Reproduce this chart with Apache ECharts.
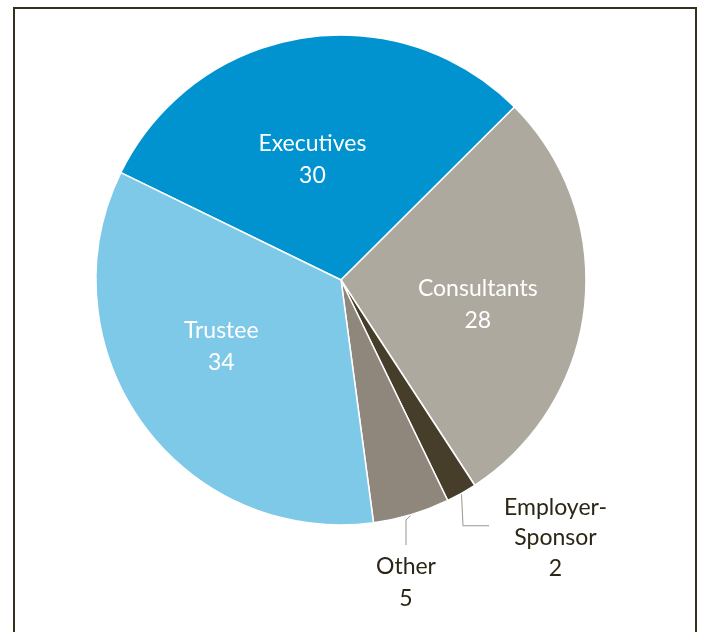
<!DOCTYPE html>
<html>
<head>
<meta charset="utf-8">
<script src="https://cdn.jsdelivr.net/npm/echarts@6/dist/echarts.min.js"></script>
<style>
  html, body { margin: 0; padding: 0; background: #ffffff; }
  #chart { width: 701px; height: 632px; }
</style>
</head>
<body>
<div id="chart"></div>
<script>
// Who makes the decision: count of responses by group
const categories = ['Executives', 'Consultants', 'Employer-\nSponsor', 'Other', 'Trustee'];
const values = [30, 28, 2, 5, 34];
const sliceColors = ['#0093d0', '#aea99e', '#463e2a', '#8f877c', '#7ec8e8'];

// which slices carry their label inside the wedge
const insideLabel = [true, true, false, false, true];

const chart = echarts.init(document.getElementById('chart'));

const data = categories.map((name, i) => ({
  name: name,
  value: values[i],
  itemStyle: { color: sliceColors[i] },
  label: insideLabel[i]
    ? { position: 'inside', color: '#ffffff' }
    : { position: 'outside', color: '#2b2616' },
  labelLine: { show: !insideLabel[i] }
}));

// outside labels: padding leaves room for the leader line
data[2].label.lineHeight = 30.5;
data[2].label.padding = [24, 0, 0, 15];
data[2].labelLine.length2 = 26;
data[3].label.padding = [6, 0, 0, 0];

// fine placement of each inside label, by slice
const labelNudge = [
  { dx: -8, dy: 3 },
  { dx: 12, dy: 11 },
  null,
  null,
  { dx: -18, dy: -7 }
];

chart.setOption({
  animation: false,
  graphic: [{
    type: 'rect',
    shape: { x: 14, y: 8, width: 682, height: 700 },
    style: { fill: 'none', stroke: '#35301f', lineWidth: 2 },
    silent: true,
    z: -1
  }],
  series: [{
    type: 'pie',
    center: [341, 280],
    radius: [0, 245],
    startAngle: 154,
    clockwise: true,
    avoidLabelOverlap: false,
    itemStyle: { borderColor: '#ffffff', borderWidth: 1.5 },
    label: {
      show: true,
      formatter: '{b}\n{c}',
      fontFamily: 'Lato',
      fontWeight: 400,
      fontSize: 23,
      lineHeight: 32,
      align: 'center'
    },
    labelLine: {
      length: 10,
      length2: 25,
      minTurnAngle: 90,
      lineStyle: { color: '#9b968c', width: 1 }
    },
    labelLayout: function (params) {
      const i = params.dataIndex;
      if (i === 3) {
        return { x: 406, y: 545, align: 'center', verticalAlign: 'top' };
      }
      if (i === 2) {
        return { x: 548, y: 468, align: 'center', verticalAlign: 'top' };
      }
      return labelNudge[i] || {};
    },
    data: data
  }]
});
</script>
</body>
</html>
